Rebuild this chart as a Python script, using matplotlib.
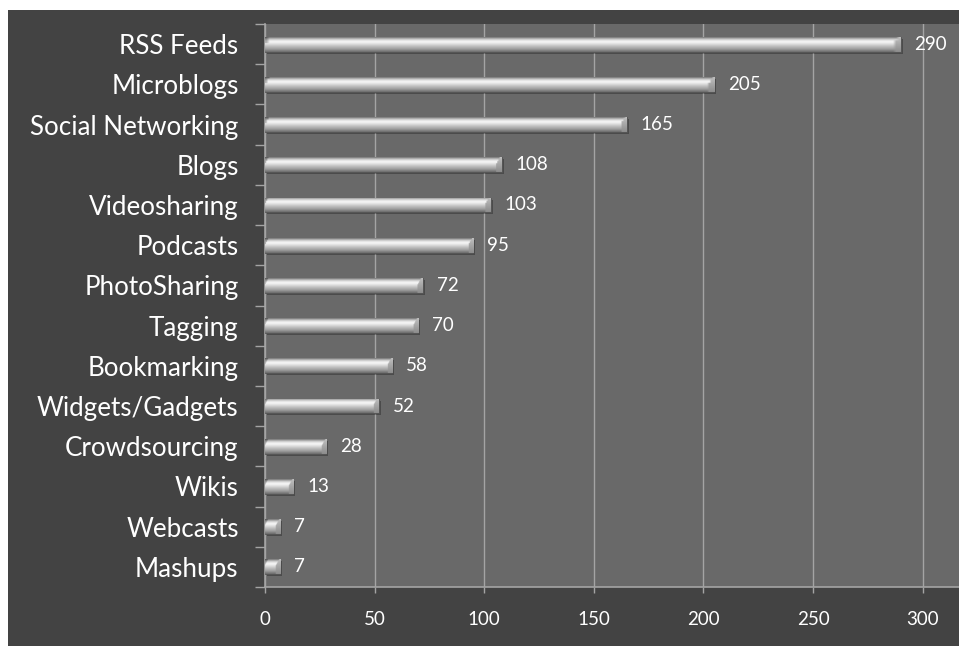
import numpy as np
import matplotlib
matplotlib.use('Agg')
import matplotlib.pyplot as plt
from matplotlib.patches import Rectangle

plt.rcParams['font.family'] = ['Lato', 'DejaVu Sans']

# Datos del gráfico
categorias = ['RSS Feeds', 'Microblogs', 'Social Networking', 'Blogs', 'Videosharing',
              'Podcasts', 'PhotoSharing', 'Tagging', 'Bookmarking', 'Widgets/Gadgets',
              'Crowdsourcing', 'Wikis', 'Webcasts', 'Mashups']
valores = [290, 205, 165, 108, 103, 95, 72, 70, 58, 52, 28, 13, 7, 7]
ticks_x = [0, 50, 100, 150, 200, 250, 300]

W, H = 959, 646
fig = plt.figure(figsize=(W / 100, H / 100), dpi=100)
fig.patch.set_facecolor('white')

# Fondo oscuro (con margen blanco arriba e izquierda)
fig.add_artist(Rectangle((8 / W, 0), 1, (H - 10) / H, transform=fig.transFigure,
                         facecolor='#434343', edgecolor='none', zorder=-10))

ax = fig.add_axes([265 / W, 1 - 587 / H, (W - 265) / W, (587 - 24) / H])
ax.set_facecolor('#696969')

n = len(categorias)
y = np.arange(n)
xmax = 316.6
alto = 0.37
gris_eje = '#a4a4a4'

# Sombra de las barras
ax.barh(y + 0.05, valores, left=0.9, height=alto, color='black', alpha=0.28,
        zorder=2, linewidth=0)

# Barras base
barras = ax.barh(y, valores, height=alto, color='#b4b4b4', edgecolor='#4e4e4e',
                 linewidth=0.6, zorder=3)

# Degradado vertical tipo cilindro
pos = [0.0, 0.08, 0.2, 0.32, 0.45, 0.6, 0.8, 1.0]
niv = [0.45, 0.66, 0.88, 0.97, 0.88, 0.76, 0.62, 0.42]
filas = np.interp(np.linspace(0, 1, 60), pos, niv)
px_por_unidad = (W - 265) / xmax
cap = 5 / px_por_unidad

for barra, v, yi in zip(barras, valores, y):
    cols = np.linspace(0, v, 200)
    img = np.repeat(filas[:, None], len(cols), axis=1)
    fr = np.linspace(0, 1, len(filas))[:, None]
    # bisel del extremo derecho: cara diagonal
    en_cap = cols[None, :] > v - cap * np.clip(1.6 * fr + 0.3, 0, 1)
    img = np.where(en_cap, 0.55 + 0.2 * (1 - fr), img)
    # bisel del extremo izquierdo
    en_izq = cols[None, :] < cap * 0.6 * np.clip(1 - 2.5 * fr, 0, 1)
    img = np.where(en_izq, img * 0.72, img)
    im = ax.imshow(img, cmap='gray', vmin=0, vmax=1, interpolation='bilinear',
                   extent=[0, v, yi + alto / 2, yi - alto / 2], origin='upper', zorder=4)
    im.set_clip_path(barra)
    ax.annotate(str(v), (v, yi), xytext=(10, 0), textcoords='offset points',
                va='center', ha='left', color='white', fontsize=13.5, zorder=5)

ax.set_aspect('auto')
ax.set_xlim(0, xmax)
ax.set_ylim(n - 0.5, -0.5)

# Ejes y rejilla
ax.set_xticks(ticks_x)
ax.set_xticklabels([str(t) for t in ticks_x])
ax.xaxis.grid(True, color=gris_eje, linewidth=1, zorder=1)
ax.set_axisbelow(True)
ax.set_yticks(y)
ax.set_yticklabels(categorias)
ax.set_yticks(np.arange(-0.5, n, 1), minor=True)

ax.tick_params(axis='y', which='major', length=0, pad=19, labelsize=18.7, labelcolor='white')
ax.tick_params(axis='y', which='minor', length=7.5, width=1, color=gris_eje, direction='out')
ax.tick_params(axis='x', length=4.5, width=1, color=gris_eje, pad=13, labelsize=13.5,
               labelcolor='white')

for lado in ['top', 'right']:
    ax.spines[lado].set_visible(False)
for lado in ['left', 'bottom']:
    ax.spines[lado].set_color(gris_eje)
    ax.spines[lado].set_linewidth(1.2)

fig.savefig('out.png', dpi=100, facecolor=fig.get_facecolor())
